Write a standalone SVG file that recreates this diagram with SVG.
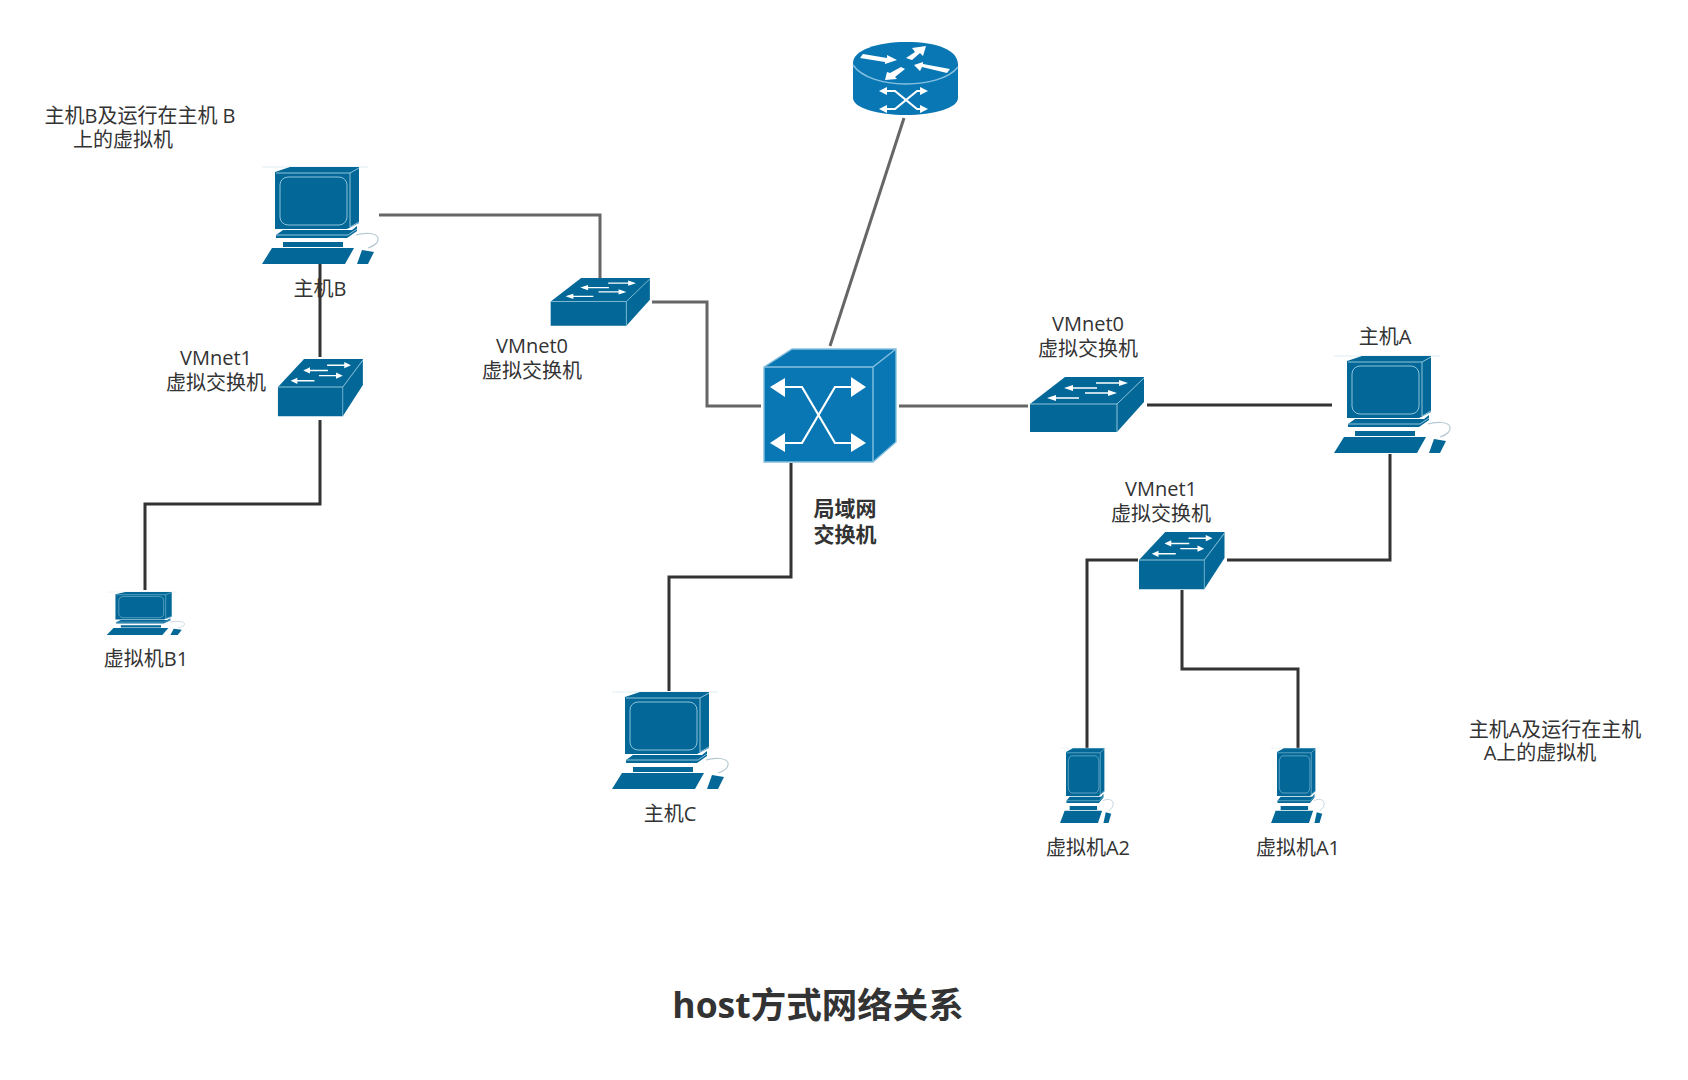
<svg xmlns="http://www.w3.org/2000/svg" width="1688" height="1080" viewBox="0 0 1688 1080">
<style>
text{font-family:"Open Sans","Noto Sans CJK SC","Noto Sans",sans-serif;font-size:20px;fill:#333;text-anchor:middle}
.b{font-weight:700;font-size:21px}
.t{font-size:35.5px;font-weight:700}
.c{fill:none;stroke-width:3}
.g{stroke:#666}.k{stroke:#333}
.pcf{fill:#036897}
.ln{fill:none;stroke:#8fc3dc;stroke-width:1}
.edge{fill:none;stroke:#86c0de;stroke-width:1.4}
.wl{fill:none;stroke:#fff;stroke-width:1.4}
.wt{fill:none;stroke:#fff;stroke-width:2.2}
.wf{fill:#fff}
.hi{fill:#0a77b5}
</style>
<defs>
<g id="pc">
<path fill="none" stroke="#d5e8ef" stroke-width=".8" d="M22 17H128"/>
<path class="pcf" d="M35 22L50 17H119V73L107 79H35Z"/>
<path class="ln" d="M36 23H110V77M110 23L119 18M110 77L119 72"/>
<rect class="ln" x="40" y="27" width="67" height="48" rx="8"/>
<path class="pcf" d="M43 80H112L117 76V81L107 88H36V85Z"/>
<path class="ln" d="M36 85H108L117 79"/>
<path class="pcf" d="M43 92H103V97H43ZM32 98H114L105 114H22Z"/>
<path fill="none" stroke="#b5c9d3" stroke-width="1.2" d="M116 85C125 82 137 83 138 88C139 93 134 96 128 98"/>
<path class="pcf" d="M122 100L134 102L128 114H117Z"/>
</g>
<g id="sw">
<path class="pcf" d="M10 27L45 0H124V25L97 55H10Z"/>
<path class="ln" d="M10 27H97L124 1M97 27V55"/>
<path class="wl" d="M30 21H59M47 11H77M65 16H94M76 6H105"/>
<path class="wf" d="M27 21L36 18V24ZM44 11L53 8V14ZM97 16L88 13V19ZM108 6L99 3V9Z"/>
</g>
</defs>
<g id="connectors">
<path class="c g" d="M904 118L830 346"/>
<path class="c g" d="M379 215H600V278"/>
<path class="c g" d="M652 302H707V406H761"/>
<path class="c g" d="M899 406H1028"/>
<path class="c k" d="M1147 405H1332"/>
<path class="c k" d="M1390 454V560H1227"/>
<path class="c k" d="M1138 560H1087V748"/>
<path class="c k" d="M1182 590V669H1298V748"/>
<path class="c k" d="M791 463V577H669V691"/>
<path class="c k" d="M320 264V357"/>
<path class="c k" d="M320 420V504H145V590"/>
</g>
<g id="router">
<path class="hi" d="M853 63C853 50 878 42 906 42C938 42 958 50 958 65V98C958 108 934 115 906 115C878 115 853 108 853 98Z"/>
<path class="edge" d="M853 65C870 90 940 90 958 67"/>
<path class="wf" d="M860 58L863 54L887 58L887 55L897 60L885 64L885 62ZM906 58L915 52L912 48L926 46L923 56L920 53L912 60ZM914 65L923 62L923 64L950 69L947 73L922 67L920 71ZM885 80L887 72L890 73L901 67L905 69L895 77L897 79Z"/>
<path class="wt" d="M885 91H895L917 109H924M885 109H895L917 91H924"/>
<path class="wf" d="M879 91L887 87V95ZM879 109L887 105V113ZM928 91L920 87V95ZM928 109L920 105V113Z"/>
</g>
<g id="lan">
<path class="hi" stroke="#86c0de" stroke-width="1.4" d="M764 367L792 349H896V442L873 462H764Z"/>
<path class="edge" d="M764 367H873V462M873 367L896 349"/>
<path class="wt" d="M785 387H802L835 443H852M785 443H802L835 387H852"/>
<path class="wf" d="M770 387L785 378V397ZM770 443L785 433V452ZM866 387L851 377V397ZM866 443L851 433V452Z"/>
</g>
<g id="hostB"><use href="#pc" x="240" y="150"/></g>
<g id="hostA"><use href="#pc" x="1312" y="339"/></g>
<g id="hostC"><use href="#pc" x="590" y="675"/></g>
<g id="vmB1"><use href="#pc" transform="translate(92 584.5) scale(.67 .443)"/></g>
<g id="vmA2"><use href="#pc" transform="translate(1050 735) scale(.457 .773)"/></g>
<g id="vmA1"><use href="#pc" transform="translate(1261 735) scale(.457 .773)"/></g>
<g id="swB0"><use href="#sw" transform="translate(542 278) scale(.87)"/></g>
<g id="swA0"><use href="#sw" transform="translate(1020 377)"/></g>
<g id="swB1"><use href="#sw" transform="translate(270.5 359) scale(.745 1.04)"/></g>
<g id="swA1"><use href="#sw" transform="translate(1131.5 532) scale(.75 1.04)"/></g>
<g id="labels">
<text><tspan x="140" y="123">主机B及运行在主机 B</tspan><tspan x="123" y="147">上的虚拟机</tspan></text>
<text x="320" y="296">主机B</text>
<text><tspan x="216" y="365">VMnet1</tspan><tspan x="216" y="390">虚拟交换机</tspan></text>
<text><tspan x="532" y="353">VMnet0</tspan><tspan x="532" y="378">虚拟交换机</tspan></text>
<text x="146" y="666">虚拟机B1</text>
<text><tspan x="1088" y="331">VMnet0</tspan><tspan x="1088" y="356">虚拟交换机</tspan></text>
<text x="1385" y="344">主机A</text>
<text><tspan x="1161" y="496">VMnet1</tspan><tspan x="1161" y="521">虚拟交换机</tspan></text>
<text class="b"><tspan x="845" y="516">局域网</tspan><tspan x="845" y="542">交换机</tspan></text>
<text x="670" y="821">主机C</text>
<text x="1088" y="855">虚拟机A2</text>
<text x="1298" y="855">虚拟机A1</text>
<text><tspan x="1555" y="737">主机A及运行在主机</tspan><tspan x="1540" y="760">A上的虚拟机</tspan></text>
<text x="818" y="1018" class="t">host方式网络关系</text>
</g>
</svg>
